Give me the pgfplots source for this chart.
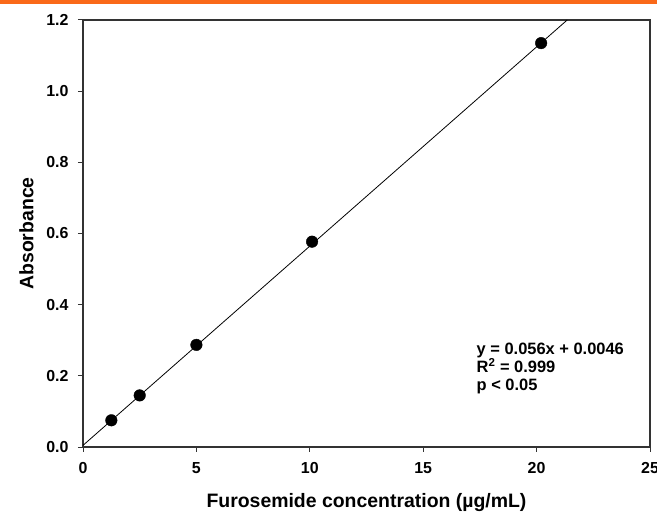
\documentclass[border=0pt]{standalone}
\usepackage{fontspec}
\setmainfont{Liberation Sans}
\usepackage{pgfplots}
\pgfplotsset{compat=1.18}
\definecolor{barorange}{RGB}{250,105,25}

\begin{document}
\begin{tikzpicture}[x=1bp,y=1bp]
\useasboundingbox (-83,-69) rectangle (574,447);
\fill[barorange] (-83,443) rectangle (574,447);
\begin{axis}[
  at={(0,0)}, anchor=south west,
  scale only axis, width=567bp, height=427bp,
  xmin=0, xmax=25, ymin=0, ymax=1.2,
  xtick={0,5,...,25}, ytick={0,0.2,...,1.2},
  tick align=outside, tick pos=left,
  major tick length=5bp,
  axis line style={line width=1.1pt, black!80},
  tick style={line width=1pt, black!80},
  /pgf/number format/assume math mode=true,
  xticklabel={\pgfmathprintnumber[fixed,precision=0]{\tick}},
  yticklabel={\pgfmathprintnumber[fixed,fixed zerofill,precision=1]{\tick}},
  ticklabel style={font=\fontsize{16}{18}\selectfont\bfseries},
  xticklabel shift=7bp,
  yticklabel shift=6bp,
  xlabel={Furosemide concentration (µg/mL)},
  ylabel={Absorbance},
  label style={font=\fontsize{19.5}{21}\selectfont\bfseries},
  xlabel style={yshift=-13bp},
  ylabel style={yshift=6bp},
  clip=true,
]
\addplot[black, line width=0.8pt] coordinates {(0,0.0046) (21.35,1.2)};
\addplot[only marks, mark=*, mark size=5.8bp, black] coordinates {
  (1.25,0.075) (2.5,0.145) (5,0.287) (10.1,0.577) (20.2,1.135)};
\node[anchor=north west, align=left, inner sep=0pt,
  font=\fontsize{16.5}{18}\selectfont\bfseries] at (axis cs:17.35,0.293)
  {y = 0.056x + 0.0046\\R\textsuperscript{2} = 0.999\\p < 0.05};
\end{axis}
\end{tikzpicture}
\end{document}
